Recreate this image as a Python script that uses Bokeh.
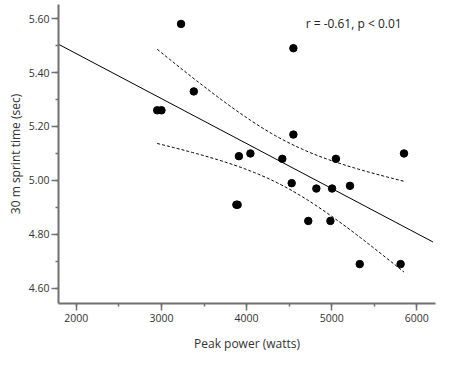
import numpy as np
from bokeh.plotting import figure
from bokeh.models import Range1d, SingleIntervalTicker, NumeralTickFormatter, Label
from bokeh.embed import file_html
from bokeh.resources import INLINE

# Data
peak_power = [3230, 4550, 3380, 2950, 3000, 4550, 3910, 4045, 4420, 5050, 5850,
              4530, 4820, 5005, 5215, 3880, 3895, 4725, 4985, 5330, 5810]
sprint_time = [5.58, 5.49, 5.33, 5.26, 5.26, 5.17, 5.09, 5.10, 5.08, 5.08, 5.10,
               4.99, 4.97, 4.97, 4.98, 4.91, 4.91, 4.85, 4.85, 4.69, 4.69]
x_ticks_interval = 1000
y_ticks_interval = 0.2
annotation = "r = -0.61, p < 0.01"
x_title = "Peak power (watts)"
y_title = "30 m sprint time (sec)"
T_CRIT = 2.093  # t(0.975, df=19)

FONT = "Open Sans"
TXT = "#333333"
AX = "#707070"

x = np.array(peak_power, dtype=float)
y = np.array(sprint_time, dtype=float)
n = len(x)
slope, intercept = np.polyfit(x, y, 1)
resid = y - (slope * x + intercept)
s = np.sqrt(np.sum(resid ** 2) / (n - 2))
xbar = x.mean()
sxx = np.sum((x - xbar) ** 2)

x_start, x_end = 1790, 6220
y_start, y_end = 4.544, 5.652

p = figure(width=446, height=356, output_backend="svg", toolbar_location=None,
           x_range=Range1d(x_start, x_end), y_range=Range1d(y_start, y_end),
           min_border_left=58, min_border_right=11, min_border_top=4, min_border_bottom=53)
p.outline_line_color = None
p.xgrid.visible = False
p.ygrid.visible = False
p.background_fill_color = "white"
p.border_fill_color = "white"

# regression line
line_x = np.array([x_start, 6190.0])
p.line(line_x, slope * line_x + intercept, line_color="black", line_width=1)

# confidence band for the mean
bx = np.linspace(x.min(), x.max(), 120)
half = T_CRIT * s * np.sqrt(1.0 / n + (bx - xbar) ** 2 / sxx)
fit_b = slope * bx + intercept
p.line(bx, fit_b + half, line_color="black", line_width=1, line_dash="3 2")
p.line(bx, fit_b - half, line_color="black", line_width=1, line_dash="3 2")

p.scatter(x=peak_power, y=sprint_time, size=7.5, fill_color="black", line_color="black")

lab = Label(x=4694, y=5.581, text=annotation, text_font=FONT, text_font_size="12px",
            text_color="#222222", text_baseline="middle", text_align="left")
p.add_layout(lab)

for ax in (p.xaxis[0], p.yaxis[0]):
    ax.axis_line_color = AX
    ax.axis_line_width = 2
    ax.major_tick_line_color = AX
    ax.minor_tick_line_color = AX
    ax.major_tick_line_width = 1.5
    ax.minor_tick_line_width = 1.5
    ax.major_tick_in = 0
    ax.minor_tick_in = 0
    ax.major_tick_out = 7
    ax.minor_tick_out = 3
    ax.major_label_text_font = FONT
    ax.major_label_text_font_size = "10.5px"
    ax.major_label_text_color = TXT
    ax.axis_label_text_font = FONT
    ax.axis_label_text_font_size = "12px"
    ax.axis_label_text_font_style = "normal"
    ax.axis_label_text_color = TXT

p.xaxis.ticker = SingleIntervalTicker(interval=x_ticks_interval, num_minor_ticks=2)
p.yaxis.ticker = SingleIntervalTicker(interval=y_ticks_interval, num_minor_ticks=2)
p.yaxis.formatter = NumeralTickFormatter(format="0.00")
p.xaxis.axis_label = x_title
p.yaxis.axis_label = y_title
p.xaxis.major_label_standoff = 3
p.yaxis.major_label_standoff = 2
p.xaxis.axis_label_standoff = 10
p.yaxis.axis_label_standoff = 2

open("out.html", "w").write(file_html(p, INLINE))
